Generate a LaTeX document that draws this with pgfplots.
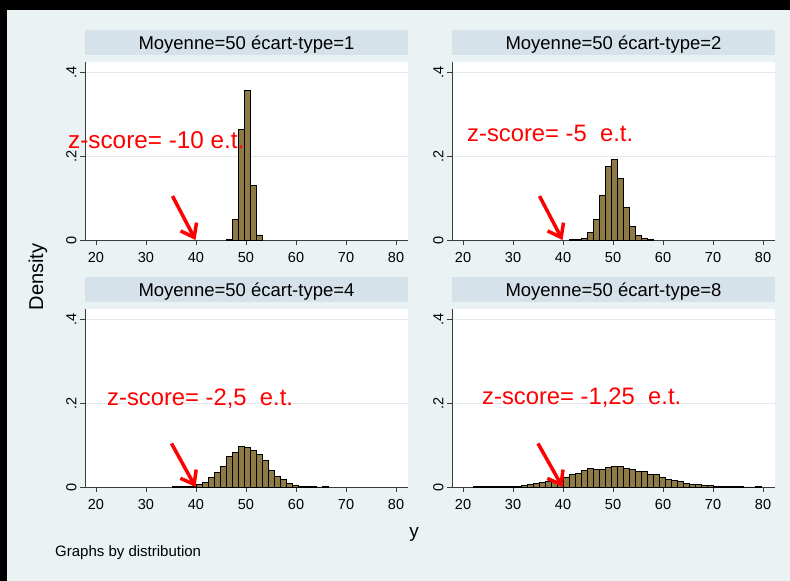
\documentclass[border=0pt]{standalone}
\usepackage{pgfplots}
\pgfplotsset{compat=1.18}
\usepackage{fontspec}
\setmainfont{Liberation Sans}
\usetikzlibrary{arrows.meta}
\definecolor{bgcol}{RGB}{234,242,243}
\definecolor{stripcol}{RGB}{214,226,233}
\definecolor{gridcol}{RGB}{224,233,237}
\definecolor{barcol}{RGB}{141,122,69}
\definecolor{axcol}{RGB}{60,60,60}
\tikzset{
  zs/.style={red, font=\fontsize{23.8}{28}\selectfont, anchor=base west, inner sep=0pt},
  arr/.style={red, line width=3.5pt, -{Straight Barb[length=12pt,width=18pt]}},
}
\pgfplotsset{
  panel/.style={
    scale only axis, width=323pt, height=178.4pt,
    xmin=17.8, xmax=82.4, ymin=0, ymax=0.4263,
    axis x line*=bottom, axis y line*=left,
    axis line style={-, axcol, line width=0.8pt},
    axis background/.style={fill=white},
    xtick={20,30,40,50,60,70,80}, xticklabels={20,30,40,50,60,70,80},
    ytick={0,0.2,0.4}, yticklabels={0,.2,.4},
    tick align=outside, major tick length=5pt,
    tick style={axcol, line width=0.7pt},
    ymajorgrids, grid style={gridcol, line width=0.8pt},
    ticklabel style={font=\fontsize{14.5}{16}\selectfont},
    yticklabel style={rotate=90, anchor=south, xshift=0pt},
    xticklabel style={anchor=north, yshift=-4pt},
    /pgf/number format/assume math mode=true,
    title style={at={(0.5,1)}, anchor=south, yshift=0pt, fill=stripcol,
      minimum width=323pt, minimum height=25pt, inner sep=0pt,
      text height=13.3pt, text depth=0pt, font=\fontsize{18.5}{21}\selectfont},
    clip=false,
  },
  hist/.style={ybar interval, fill=barcol, draw=black, line width=0.9pt},
}
\begin{document}
\begin{tikzpicture}
\fill[black] (0pt,0pt) rectangle (790pt,581pt);
\fill[bgcol] (7pt,0pt) rectangle (790pt,571pt);

% top-left
\begin{axis}[panel, at={(85pt,341pt)}, anchor=south west, title={Moyenne=50 écart-type=1}]
\addplot[hist] coordinates {(46.05,0.001) (47.25,0.048) (48.45,0.263) (49.65,0.357) (50.85,0.130) (52.05,0.012) (53.25,0.012)};
\node[zs, font=\fontsize{24.3}{28}\selectfont] at (axis cs:14.4,0.219) {z-score= -10 e.t.};
\draw[arr] (axis cs:35.3,0.105) -- (axis cs:39.9,0.0);
\end{axis}

% top-right
\begin{axis}[panel, at={(452pt,341pt)}, anchor=south west, title={Moyenne=50 écart-type=2}]
\addplot[hist] coordinates {(41.25,0.0005) (42.45,0.0005) (43.65,0.004) (44.85,0.019) (46.05,0.050) (47.25,0.107) (48.45,0.176) (49.65,0.192) (50.85,0.148) (52.05,0.077) (53.25,0.032) (54.45,0.010) (55.65,0.003) (56.85,0.0005) (58.05,0.0005)};
\node[zs] at (axis cs:20.8,0.236) {z-score= -5\ \ e.t.};
\draw[arr] (axis cs:35.3,0.105) -- (axis cs:39.9,0.0);
\end{axis}

% bottom-left
\begin{axis}[panel, at={(85pt,94pt)}, anchor=south west, title={Moyenne=50 écart-type=4}]
\addplot[hist] coordinates {(35.25,0.0005) (36.45,0.0005) (37.65,0.0005) (38.85,0.001) (40.05,0.0055) (41.25,0.010) (42.45,0.022) (43.65,0.035) (44.85,0.049) (46.05,0.073) (47.25,0.083) (48.45,0.097) (49.65,0.095) (50.85,0.087) (52.05,0.078) (53.25,0.063) (54.45,0.040) (55.65,0.026) (56.85,0.017) (58.05,0.008) (59.25,0.003) (60.45,0.002) (61.65,0.001) (62.85,0.001) (64.05,0) (65.25,0.001) (66.45,0.001)};
\node[zs] at (axis cs:22.2,0.195) {z-score= -2,5\ \ e.t.};
\draw[arr] (axis cs:35.1,0.104) -- (axis cs:39.9,0.0);
\end{axis}

% bottom-right
\begin{axis}[panel, at={(452pt,94pt)}, anchor=south west, title={Moyenne=50 écart-type=8}]
\addplot[hist] coordinates {(22.05,0.0005) (23.25,0.0005) (24.45,0.0005) (25.65,0.0005) (26.85,0.001) (28.05,0.001) (29.25,0.001) (30.45,0.002) (31.65,0.003) (32.85,0.005) (34.05,0.008) (35.25,0.010) (36.45,0.013) (37.65,0.014) (38.85,0.019) (40.05,0.024) (41.25,0.030) (42.45,0.032) (43.65,0.040) (44.85,0.044) (46.05,0.042) (47.25,0.042) (48.45,0.047) (49.65,0.048) (50.85,0.049) (52.05,0.044) (53.25,0.042) (54.45,0.038) (55.65,0.036) (56.85,0.029) (58.05,0.029) (59.25,0.022) (60.45,0.018) (61.65,0.016) (62.85,0.0135) (64.05,0.009) (65.25,0.006) (66.45,0.005) (67.65,0.004) (68.85,0.003) (70.05,0.001) (71.25,0.001) (72.45,0.0005) (73.65,0.0005) (74.85,0.0005) (76.05,0) (77.25,0) (78.45,0.001) (79.65,0.001)};
\node[zs] at (axis cs:23.8,0.198) {z-score= -1,25\ \ e.t.};
\draw[arr] (axis cs:35.0,0.104) -- (axis cs:39.9,0.0);
\end{axis}

\node[rotate=90, font=\fontsize{20}{24}\selectfont] at (38pt,304pt) {Density};
\node[font=\fontsize{19}{22}\selectfont] at (414pt,47pt) {y};
\node[anchor=west, inner sep=0pt, font=\fontsize{15}{18}\selectfont] at (55pt,28pt) {Graphs by distribution};
\pgfresetboundingbox
\useasboundingbox (0pt,0pt) rectangle (790pt,581pt);
\end{tikzpicture}
\end{document}
